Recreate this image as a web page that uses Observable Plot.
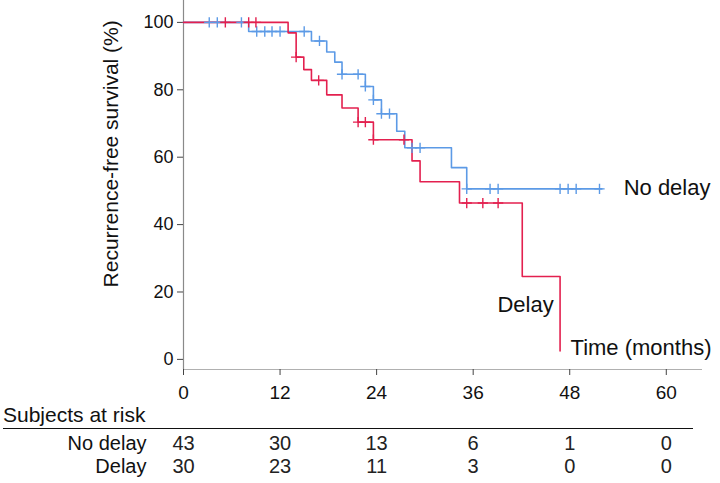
<!DOCTYPE html>
<html>
<head>
<meta charset="utf-8">
<script src="https://cdn.jsdelivr.net/npm/d3@7"></script>
<script src="https://cdn.jsdelivr.net/npm/@observablehq/plot@0.6"></script>
<style>
  html, body { margin: 0; padding: 0; background: #fff; }
  body { width: 720px; height: 483px; overflow: hidden; font-family: "Liberation Sans", Arial, sans-serif; }
  #header { height: 20px; line-height: 20px; font-size: 21px; color: #111; padding-left: 3px; }
  #rule { margin: 3px 0 0 3px; width: 690px; border-top: 1.6px solid #111; height: 0; }
  svg { display: block; }
</style>
</head>
<body>
<div id="chart"></div>
<div id="header">Subjects at risk</div>
<div id="rule"></div>
<div id="table"></div>
<script>
// ---- data ----
const xTicks = [0, 12, 24, 36, 48, 60];
const yTicks = [0, 20, 40, 60, 80, 100];
const groups = ["No delay", "Delay"];
const colors = ["#5c9ae6", "#e3204f"];

const noDelayTime = [0, 8.1, 15.9, 17.8, 18.8, 19.7, 22.6, 23.6, 24.6, 26.5, 27.5, 33.3, 35.2, 52.0];
const noDelaySurv = [100, 97.3, 94.5, 91.2, 88.2, 84.6, 81.0, 77.0, 72.9, 67.7, 62.8, 56.9, 50.6, 50.6];
const delayTime = [0, 13.0, 14.0, 14.95, 15.9, 17.8, 19.7, 21.7, 23.6, 28.4, 29.4, 34.3, 42.1, 46.8];
const delaySurv = [100, 96.9, 89.7, 86.0, 82.8, 78.5, 74.6, 70.4, 65.2, 58.9, 52.7, 46.4, 24.6, 2.5];

const noDelayCensorTime = [3.2, 4.2, 7.2, 9.1, 10.1, 11.0, 12.0, 15.0, 16.9, 19.7, 21.7, 22.6, 23.6, 24.6, 25.6, 28.4, 29.4, 35.2, 38.1, 39.1, 46.8, 47.8, 48.8, 51.7];
const noDelayCensorSurv = [100, 100, 100, 97.3, 97.3, 97.3, 97.3, 97.3, 94.5, 84.6, 84.6, 81.0, 77.0, 72.9, 72.9, 62.8, 62.8, 50.6, 50.6, 50.6, 50.6, 50.6, 50.6, 50.6];
const delayCensorTime = [5.2, 8.1, 9.0, 14.0, 16.8, 21.7, 22.6, 23.6, 27.4, 35.2, 37.2, 39.1];
const delayCensorSurv = [100, 100, 100, 89.7, 82.8, 70.4, 70.4, 65.2, 65.2, 46.4, 46.4, 46.4];

const atRiskTimes = [0, 12, 24, 36, 48, 60];
const atRiskNoDelay = [43, 30, 13, 6, 1, 0];
const atRiskDelay = [30, 23, 11, 3, 0, 0];

const yLabel = "Recurrence-free survival (%)";
const startLabels = [
  {text: "No delay", t: 54.7, s: 51},
  {text: "Time (months)", t: 48.1, s: 3.3}
];
const endLabels = [
  {text: "Delay", t: 46.0, s: 16.3}
];

// ---- build tables ----
const zip = (ts, ss, g) => ts.map((t, i) => ({t, s: ss[i], g}));
const curves = [...zip(noDelayTime, noDelaySurv, groups[0]), ...zip(delayTime, delaySurv, groups[1])];
const censors = [...zip(noDelayCensorTime, noDelayCensorSurv, groups[0]), ...zip(delayCensorTime, delayCensorSurv, groups[1])];
const atRisk = [
  ...atRiskTimes.map((t, i) => ({t, g: groups[0], n: atRiskNoDelay[i]})),
  ...atRiskTimes.map((t, i) => ({t, g: groups[1], n: atRiskDelay[i]}))
];

const xDomain = [0, 64.5];
const font = "'Liberation Sans', Arial, sans-serif";

const chart = Plot.plot({
  width: 720,
  height: 405,
  marginLeft: 183,
  marginRight: 18,
  marginTop: 0,
  marginBottom: 36,
  style: {fontFamily: font, color: "#111", background: "#fff"},
  x: {domain: xDomain},
  y: {domain: [-3, 106.5]},
  color: {domain: groups, range: colors},
  marks: [
    Plot.ruleX([0], {stroke: "#8a8a8a", strokeWidth: 1.2}),
    Plot.ruleY([-3], {stroke: "#b0b0b0", strokeWidth: 1.2}),
    Plot.axisX({ticks: xTicks, tickSize: 6, tickPadding: 10, fontSize: 19, label: null, stroke: "#444", anchor: "bottom"}),
    Plot.axisY({ticks: yTicks, tickSize: 6, tickPadding: 4, fontSize: 18, label: null, stroke: "#444", anchor: "left"}),
    Plot.line(curves, {x: "t", y: "s", z: "g", stroke: "g", curve: "step-after", strokeWidth: 1.6}),
    Plot.dot(censors, {x: "t", y: "s", stroke: "g", symbol: "plus", r: 3.4, strokeWidth: 1.4}),
    Plot.text([yLabel], {frameAnchor: "left", y: [61], dx: -72, rotate: -90, textAnchor: "middle", fontSize: 21, fill: "#111", text: d => d}),
    Plot.text(startLabels, {x: "t", y: "s", text: "text", textAnchor: "start", fontSize: 22, fill: "#111"}),
    Plot.text(endLabels, {x: "t", y: "s", text: "text", textAnchor: "end", fontSize: 22, fill: "#111"})
  ]
});
document.getElementById("chart").appendChild(chart);

const table = Plot.plot({
  width: 720,
  height: 53,
  marginLeft: 183,
  marginRight: 18,
  marginTop: 14,
  marginBottom: 16,
  style: {fontFamily: font, color: "#111", background: "#fff"},
  x: {domain: xDomain, axis: null},
  y: {type: "point", domain: groups, padding: 0, axis: null},
  marks: [
    Plot.text(atRisk, {x: "t", y: "g", text: d => String(d.n), fontSize: 20, fill: "#222"}),
    Plot.text(groups, {frameAnchor: "left", y: d => d, text: d => d, textAnchor: "end", dx: -37, fontSize: 20, fill: "#111"})
  ]
});
document.getElementById("table").appendChild(table);
</script>
</body>
</html>
